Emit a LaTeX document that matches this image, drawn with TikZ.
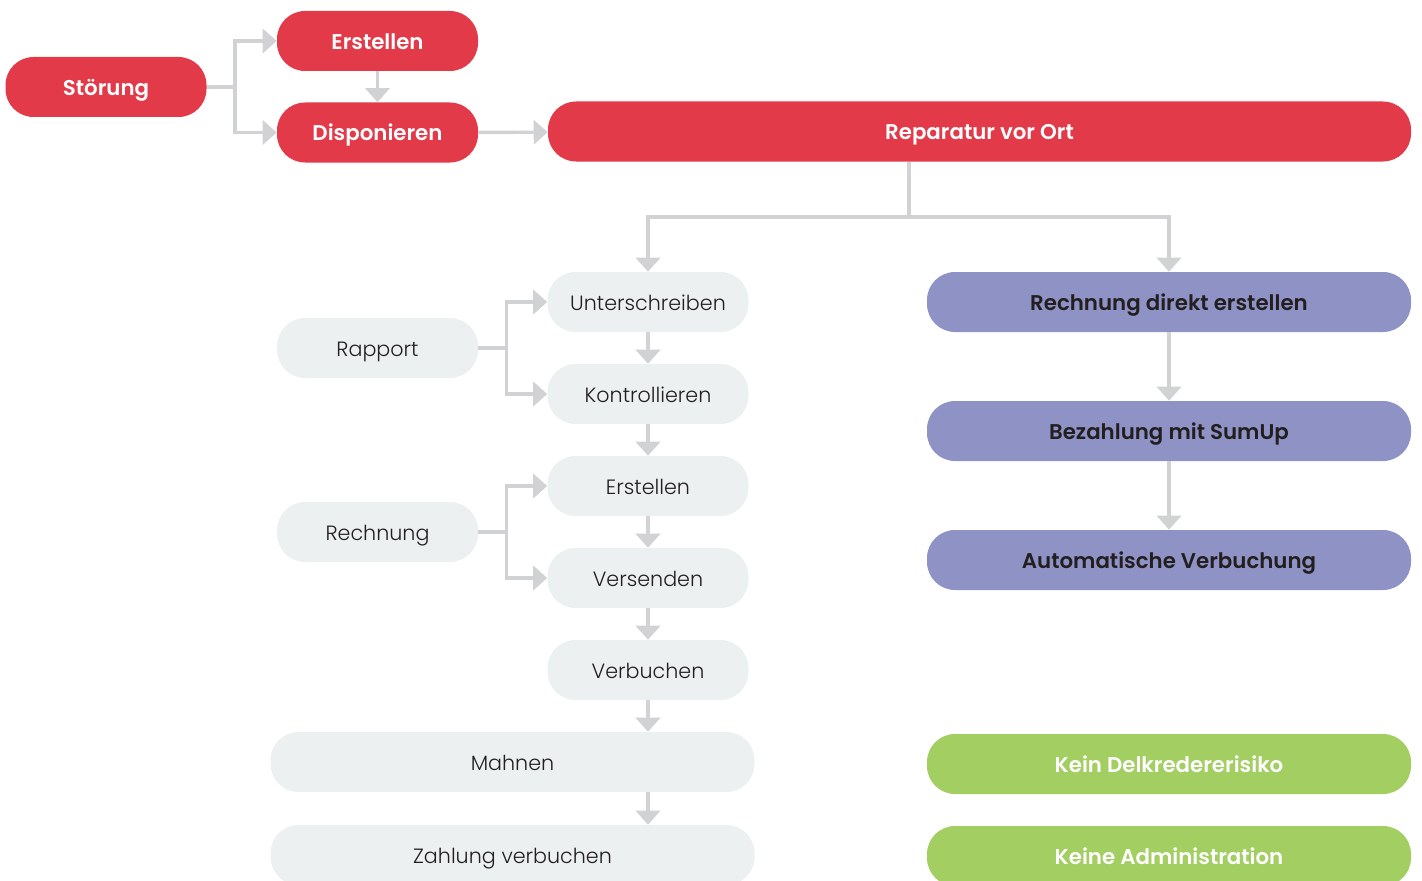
\documentclass[tikz,border=0pt]{standalone}
\usepackage{fontspec}
\setmainfont{Poppins}[BoldFont={Poppins SemiBold}]
\newfontfamily\lightfont{Poppins Light}
\usetikzlibrary{arrows.meta}
\definecolor{redbox}{HTML}{E33A4A}
\definecolor{purplebox}{HTML}{8E92C5}
\definecolor{greenbox}{HTML}{A2CE62}
\definecolor{graybox}{HTML}{EDF0F1}
\definecolor{arrgray}{HTML}{D1D2D4}
\definecolor{darktext}{HTML}{231F20}
\begin{document}
\begin{tikzpicture}[x=0.75pt,y=-0.75pt,
  box/.style={rectangle, rounded corners=21pt, minimum height=45pt, inner sep=0pt, align=center, text height=12.5pt, text depth=0pt},
  small/.style={box, minimum width=150.75pt},
  wide/.style={box, minimum width=363pt},
  redn/.style={fill=redbox, text=white, font=\fontsize{16}{18}\selectfont\bfseries},
  purplen/.style={fill=purplebox, text=darktext, font=\fontsize{16}{18}\selectfont\bfseries},
  greenn/.style={fill=greenbox, text=white, font=\fontsize{16}{18}\selectfont\bfseries},
  grayn/.style={fill=graybox, text=darktext, font=\fontsize{15.5}{18}\selectfont\lightfont},
  conn/.style={draw=arrgray, line width=2.6pt},
  arr/.style={conn, -{Triangle[length=10.5pt,width=18pt]}}
]
\useasboundingbox (0,0) rectangle (1422,881);
% red nodes
\node[small, redn] (st) at (106,87) {Störung};
\node[small, redn] (er1) at (377.5,41) {Erstellen};
\node[small, redn] (dis) at (377.5,132.5) {Disponieren};
\node[box, redn, minimum width=647.25pt] (rep) at (979.5,131.5) {Reparatur vor Ort};
% gray nodes
\node[small, grayn] (unt) at (648,302) {Unterschreiben};
\node[small, grayn] (kon) at (648,394) {Kontrollieren};
\node[small, grayn] (ers2) at (648,486) {Erstellen};
\node[small, grayn] (vsd) at (648,578) {Versenden};
\node[small, grayn] (vbu) at (648,670) {Verbuchen};
\node[small, grayn] (rap) at (377.5,348) {Rapport};
\node[small, grayn] (rec) at (377.5,532) {Rechnung};
\node[wide, grayn] (mah) at (512.5,762) {Mahnen};
\node[wide, grayn] (zah) at (512.5,855) {Zahlung verbuchen};
% purple nodes
\node[wide, purplen] (rde) at (1169,302) {Rechnung direkt erstellen};
\node[wide, purplen] (bez) at (1169,431) {Bezahlung mit SumUp};
\node[wide, purplen] (aut) at (1169,560) {Automatische Verbuchung};
% green nodes
\node[wide, greenn] (kdr) at (1169,764) {Kein Delkredererisiko};
\node[wide, greenn] (kad) at (1169,856) {Keine Administration};
% connectors top
\draw[conn] (st.east) -- ++(28,0) coordinate (j1);
\draw[arr] (j1) |- (er1.west);
\draw[arr] (j1) |- (dis.west);
\draw[arr] (er1) -- (dis);
\draw[arr] (dis) -- (rep);
\coordinate (rb) at (909,217);
\draw[conn] (rep.south -| rb) -- (rb);
\draw[arr] (rb) -| (unt.north);
\draw[arr] (rb) -| (rde.north);
% left column
\draw[conn] (rap.east) -- ++(28,0) coordinate (j2);
\draw[arr] (j2) |- (unt.west);
\draw[arr] (j2) |- (kon.west);
\draw[conn] (rec.east) -- ++(28,0) coordinate (j3);
\draw[arr] (j3) |- (ers2.west);
\draw[arr] (j3) |- (vsd.west);
\draw[arr] (unt) -- (kon);
\draw[arr] (kon) -- (ers2);
\draw[arr] (ers2) -- (vsd);
\draw[arr] (vsd) -- (vbu);
\draw[arr] (vbu.south) -- (mah.north -| vbu);
\draw[arr] (mah.south -| vbu) -- (zah.north -| vbu);
% right column
\draw[arr] (rde) -- (bez);
\draw[arr] (bez) -- (aut);
\end{tikzpicture}
\end{document}
